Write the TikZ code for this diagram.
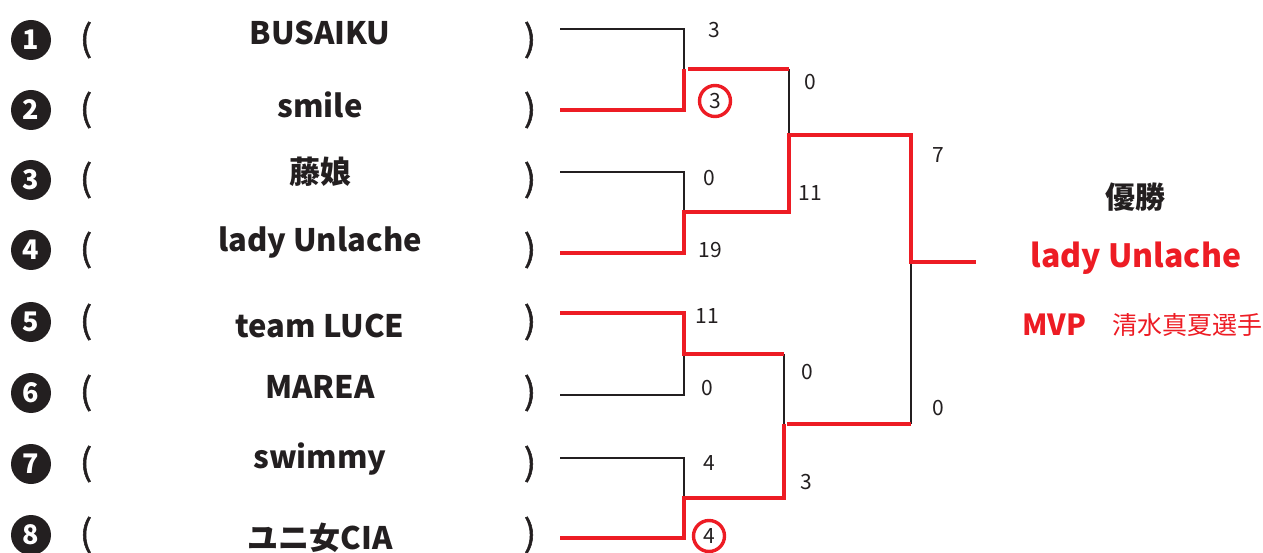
\documentclass[tikz,border=0pt]{standalone}
\usepackage{fontspec}
\setmainfont{Noto Sans CJK JP}
\newfontfamily\parenfont{Noto Sans CJK JP}[FakeBold=1.5]
\definecolor{bred}{HTML}{ED1C24}
\definecolor{bk}{HTML}{231F20}
\begin{document}
\begin{tikzpicture}[x=1pt,y=-1pt,
  numc/.style={circle,fill=bk,minimum size=40pt,inner sep=0pt,text=white,font=\bfseries\fontsize{27}{27}\selectfont},
  paren/.style={font=\parenfont\fontsize{36}{36}\selectfont,text=bk,inner sep=0pt},
  team/.style={font=\bfseries\fontsize{31}{31}\selectfont,text=bk,inner sep=0pt},
  score/.style={font=\fontsize{21}{21}\selectfont,text=bk,inner sep=0pt},
  lose/.style={draw=bk,line width=1.8pt},
  win/.style={draw=bred,line width=4.2pt},
  ring/.style={circle,draw=bred,line width=3.4pt,minimum size=31pt,inner sep=0pt,font=\fontsize{21}{21}\selectfont,text=bk}]
\useasboundingbox (0,0) rectangle (1263,553);
% left column
\foreach \i/\y/\ty/\t in {1/40/33/BUSAIKU,2/110/105/smile,3/180/172/藤娘,4/250/243/lady Unlache,5/322/326/team LUCE,6/393/387/MAREA,7/464/459/swimmy,8/535/538/ユニ女CIA}{
  \node[numc] (n\i) at (31,\y) {\i};
  \node[paren] (lp\i) at (86,\y) {(};
  \node[team] (t\i) at (320,\ty) {\t};
  \node[paren] (rp\i) at (530,\y) {)};
}
% coordinates
\coordinate (s1) at (560,29);  \coordinate (j1) at (684,29);
\coordinate (s2) at (560,110); \coordinate (j2) at (684,110);
\coordinate (m12) at (684,69); \coordinate (e12) at (789,69);
\coordinate (s3) at (560,172); \coordinate (j3) at (684,172);
\coordinate (s4) at (560,253); \coordinate (j4) at (684,253);
\coordinate (m34) at (684,212); \coordinate (e34) at (789,212);
\coordinate (sf1) at (789,135); \coordinate (ef1) at (911,135);
\coordinate (s5) at (560,313); \coordinate (j5) at (684,313);
\coordinate (s6) at (560,395); \coordinate (j6) at (684,395);
\coordinate (m56) at (684,354); \coordinate (e56) at (784,354);
\coordinate (s7) at (560,458); \coordinate (j7) at (684,458);
\coordinate (s8) at (560,538); \coordinate (j8) at (684,538);
\coordinate (m78) at (684,498); \coordinate (e78) at (784,498);
\coordinate (sf2) at (784,424); \coordinate (ef2) at (911,424);
\coordinate (fin) at (911,262); \coordinate (champ) at (976,262);
% losers (black)
\draw[lose] (s1) -- (j1) -- (m12);
\draw[lose] (s3) -- (j3) -- (m34);
\draw[lose] (e12) -- (sf1);
\draw[lose] (s6) -- (j6) -- (m56);
\draw[lose] (s7) -- (j7) -- (m78);
\draw[lose] (e56) -- (sf2);
\draw[lose] (fin) -- (ef2);
% winners (red)
\draw[win] (s2) -- (j2) -- (m12);
\draw[win] ([xshift=4pt]m12) -- (e12);
\draw[win] (s4) -- (j4) -- (m34) -- (e34) -- (sf1) -- (ef1) -- (fin) -- (champ);
\draw[win] (s5) -- (j5) -- (m56) -- (e56);
\draw[win] (s8) -- (j8) -- (m78) -- (e78) -- (sf2);
\draw[win] ([xshift=3pt]sf2) -- (ef2);
% scores
\node[score] (c1) at (714,30) {3};
\node[ring] (c2) at (715,101) {3};
\node[score] (c3) at (709,178) {0};
\node[score] (c4) at (710,250) {19};
\node[score] (c5) at (707,316) {11};
\node[score] (c6) at (707,388) {0};
\node[score] (c7) at (709,463) {4};
\node[ring] (c8) at (709,536) {4};
\node[score] (c12) at (810,82) {0};
\node[score] (c34) at (810,193) {11};
\node[score] (c56) at (807,372) {0};
\node[score] (c78) at (806,482) {3};
\node[score] (cf1) at (938,155) {7};
\node[score] (cf2) at (938,408) {0};
% result
\node[font=\bfseries\fontsize{30}{30}\selectfont,text=bk,inner sep=0pt] (yusho) at (1135,197) {優勝};
\node[font=\bfseries\fontsize{32}{32}\selectfont,text=bred,inner sep=0pt] (winner) at (1136,258) {lady Unlache};
\node[font=\bfseries\fontsize{29}{29}\selectfont,text=bred,inner sep=0pt] (mvp) at (1054,325) {MVP};
\node[font=\fontsize{25}{25}\selectfont,text=bred,inner sep=0pt,anchor=west] (mvpname) at (1112,325) {清水真夏選手};
\end{tikzpicture}
\end{document}
